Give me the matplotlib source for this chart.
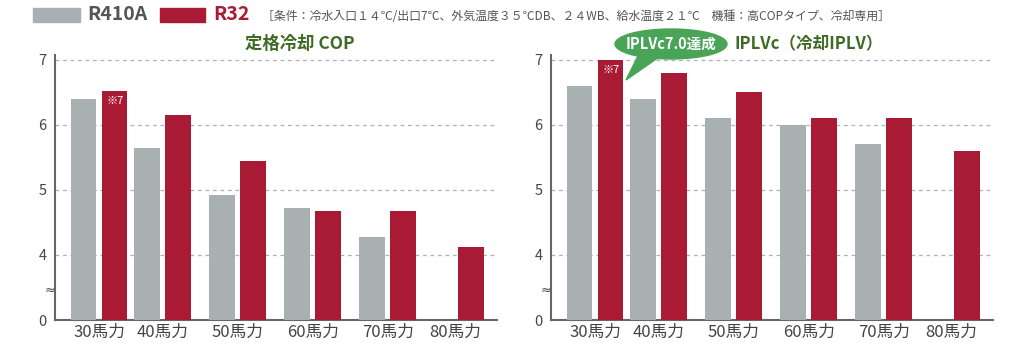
import numpy as np
import matplotlib.pyplot as plt
from matplotlib.patches import Ellipse, Polygon, Rectangle
from matplotlib.transforms import blended_transform_factory

plt.rcParams['font.family'] = ['Noto Sans CJK JP', 'DejaVu Sans']

categories = ['30馬力', '40馬力', '50馬力', '60馬力', '70馬力', '80馬力']
cop_r410a = [6.4, 5.65, 4.92, 4.72, 4.28, None]
cop_r32 = [6.53, 6.15, 5.45, 4.68, 4.68, 4.12]
iplv_r410a = [6.6, 6.4, 6.1, 6.0, 5.7, None]
iplv_r32 = [7.0, 6.8, 6.5, 6.1, 6.1, 5.6]
ytick_vals = [0, 4, 5, 6, 7]

GRAY = '#a8b0b1'
RED = '#a91b35'
GREEN_T = '#3d6b25'
GREEN_B = '#4aa457'
TXT = '#444444'

W, H = 1024, 351
fig = plt.figure(figsize=(W / 100, H / 100), dpi=100)


def fx(px):
    return px / W


def fy(py):
    return 1 - py / H


def disp(v):
    # broken axis: 0 stays at 0, 4..7 shifted down by 3
    return 0 if v == 0 else v - 3


pos = np.array([0, 0.85, 1.85, 2.85, 3.85, 4.75])
bw = 0.345
off = 0.207


def panel(left_px, g_vals, r_vals):
    top_px, bot_px = 55, 320
    ax = fig.add_axes([fx(left_px), fy(bot_px), fx(442), (bot_px - top_px) / H])
    for i, (g, r) in enumerate(zip(g_vals, r_vals)):
        if g is not None:
            ax.bar(pos[i] - off, disp(g), bw, color=GRAY, zorder=3)
        ax.bar(pos[i] + off, disp(r), bw, color=RED, zorder=3)
    ax.set_xlim(-0.587, 5.307)
    ax.set_ylim(0, (bot_px - top_px) / 65)
    ax.set_yticks([disp(v) for v in ytick_vals])
    ax.set_yticklabels([str(v) for v in ytick_vals])
    ax.set_xticks(pos)
    ax.set_xticklabels(categories)
    ax.tick_params(length=0, colors=TXT)
    ax.tick_params(axis='y', labelsize=10.5, pad=6)
    ax.tick_params(axis='x', labelsize=12, pad=3)
    for t in ytick_vals[1:]:
        ax.axhline(disp(t), color='#b0b0b0', lw=0.9, ls=(0, (3, 3)), zorder=1)
    for s in ['top', 'right']:
        ax.spines[s].set_visible(False)
    for s in ['left', 'bottom']:
        ax.spines[s].set_color('#666666')
        ax.spines[s].set_linewidth(1.5)
    tr = blended_transform_factory(ax.transAxes, ax.transData)
    ax.text(-0.012, 0.46, '≈', transform=tr, ha='center', va='center',
            fontsize=9, color=TXT, zorder=5, family='DejaVu Sans')
    # ※7 note inside first red bar
    ax.text(pos[0] + off - bw / 2 + 0.06, disp(r_vals[0]) - 0.08, '※7',
            color='white', fontsize=8, ha='left', va='top', zorder=4)
    return ax


ax1 = panel(55, cop_r410a, cop_r32)
ax2 = panel(551, iplv_r410a, iplv_r32)

# legend row
fig.patches.append(Rectangle((fx(33), fy(22)), fx(47), 14 / H, color=GRAY,
                             transform=fig.transFigure))
fig.text(fx(87), fy(15), 'R410A', fontsize=14, fontweight='bold', color='#555555',
         va='center', ha='left')
fig.patches.append(Rectangle((fx(160), fy(22)), fx(45), 14 / H, color=RED,
                             transform=fig.transFigure))
fig.text(fx(213), fy(15), 'R32', fontsize=14, fontweight='bold', color=RED,
         va='center', ha='left')
fig.text(fx(262), fy(16),
         '［条件：冷水入口１４℃/出口7℃、外気温度３５℃DB、２４WB、給水温度２１℃　機種：高COPタイプ、冷却専用］',
         fontsize=8.6, color='#555555', va='center', ha='left')

# panel titles
fig.text(fx(300), fy(44), '定格冷却 COP', fontsize=12.5, fontweight='bold',
         color=GREEN_T, ha='center', va='center')
fig.text(fx(735), fy(44), 'IPLVc（冷却IPLV）', fontsize=12, fontweight='bold',
         color=GREEN_T, ha='left', va='center')

# speech bubble
fig.patches.append(Polygon([(fx(640), fy(52)), (fx(662), fy(55)), (fx(626), fy(80))],
                           closed=True, color=GREEN_B, transform=fig.transFigure))
fig.patches.append(Ellipse((fx(671), fy(44)), fx(112), 30 / H, color=GREEN_B,
                           transform=fig.transFigure))
fig.text(fx(671), fy(44), 'IPLVc7.0達成', fontsize=10.5, fontweight='bold',
         color='white', ha='center', va='center')

fig.savefig('out.png', dpi=100)
